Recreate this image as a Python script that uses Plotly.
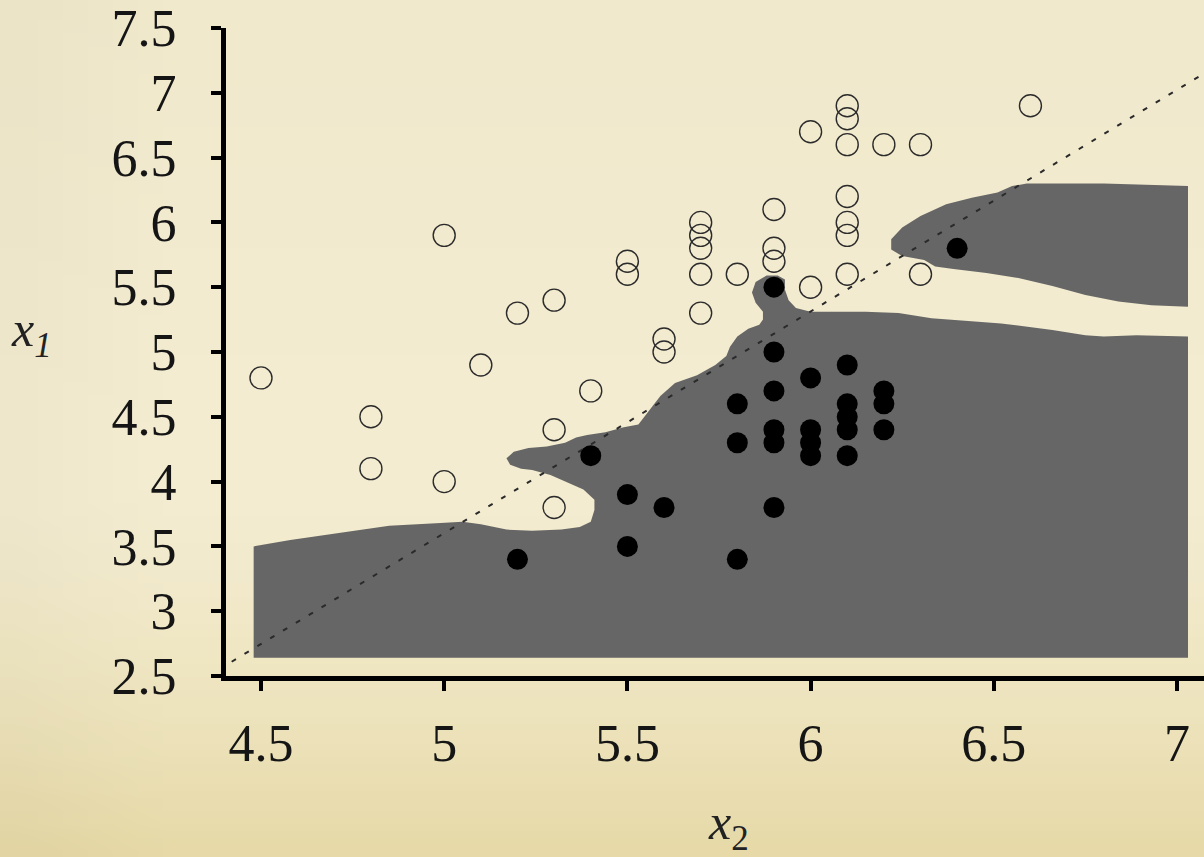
import base64, struct, zlib
import plotly.graph_objects as go

# ---------------- data ----------------
open_x2 = [4.5, 4.8, 4.8, 5.0, 5.0, 5.1, 5.2, 5.3, 5.3, 5.3, 5.4, 5.5, 5.5, 5.6, 5.6,
           5.7, 5.7, 5.7, 5.7, 5.7, 5.8, 5.9, 5.9, 5.9, 6.0, 6.0, 6.1, 6.1, 6.1, 6.1,
           6.1, 6.1, 6.1, 6.2, 6.3, 6.3, 6.6]
open_x1 = [4.8, 4.5, 4.1, 5.9, 4.0, 4.9, 5.3, 5.4, 4.4, 3.8, 4.7, 5.7, 5.6, 5.1, 5.0,
           6.0, 5.9, 5.8, 5.6, 5.3, 5.6, 6.1, 5.8, 5.7, 6.7, 5.5, 6.9, 6.8, 6.6, 6.2,
           6.0, 5.9, 5.6, 6.6, 6.6, 5.6, 6.9]

filled_x2 = [5.2, 5.4, 5.5, 5.5, 5.6, 5.8, 5.8, 5.8, 5.9, 5.9, 5.9, 5.9, 5.9, 5.9,
             6.0, 6.0, 6.0, 6.0, 6.1, 6.1, 6.1, 6.1, 6.1, 6.2, 6.2, 6.2, 6.4]
filled_x1 = [3.4, 4.2, 3.9, 3.5, 3.8, 4.6, 4.3, 3.4, 5.5, 5.0, 4.7, 4.4, 4.3, 3.8,
             4.8, 4.4, 4.3, 4.2, 4.9, 4.6, 4.5, 4.4, 4.2, 4.7, 4.6, 4.4, 5.8]

# decision region (lower, main part)
region_main_x = [4.48, 4.48, 4.58, 4.72, 4.85, 4.99, 5.05, 5.10, 5.17, 5.24, 5.32, 5.37, 5.40,
                 5.41, 5.41, 5.38, 5.33, 5.29, 5.24, 5.21, 5.18, 5.17, 5.19, 5.23, 5.28, 5.33,
                 5.36, 5.39, 5.44, 5.49, 5.53, 5.56, 5.59, 5.63, 5.69, 5.74, 5.77, 5.78, 5.80,
                 5.83, 5.86, 5.87, 5.87, 5.85, 5.84, 5.85, 5.88, 5.91, 5.93, 5.93, 5.94, 5.96,
                 6.00, 6.06, 6.15, 6.24, 6.33, 6.43, 6.52, 6.66, 6.75, 6.80, 6.89, 7.03, 7.03]
region_main_y = [2.64, 3.50, 3.55, 3.61, 3.66, 3.68, 3.69, 3.67, 3.63, 3.62, 3.63, 3.65, 3.69,
                 3.78, 3.86, 3.94, 4.00, 4.05, 4.09, 4.10, 4.13, 4.18, 4.23, 4.26, 4.27, 4.30,
                 4.34, 4.36, 4.38, 4.42, 4.44, 4.55, 4.66, 4.76, 4.82, 4.90, 4.97, 5.04, 5.12,
                 5.18, 5.21, 5.25, 5.31, 5.38, 5.46, 5.54, 5.59, 5.59, 5.56, 5.48, 5.40, 5.34,
                 5.31, 5.31, 5.31, 5.30, 5.26, 5.24, 5.22, 5.17, 5.13, 5.12, 5.13, 5.12, 2.64]

# decision region (upper-right lobe)
region_lobe_x = [7.03, 6.80, 6.59, 6.55, 6.51, 6.44, 6.37, 6.30, 6.25, 6.22, 6.22, 6.25, 6.31,
                 6.34, 6.39, 6.48, 6.57, 6.66, 6.75, 6.84, 6.93, 7.03]
region_lobe_y = [6.28, 6.30, 6.30, 6.28, 6.23, 6.19, 6.14, 6.05, 5.96, 5.87, 5.79, 5.74, 5.71,
                 5.66, 5.64, 5.61, 5.57, 5.51, 5.44, 5.39, 5.36, 5.35]

# dashed reference line end points
diag_x = [4.42, 7.08]
diag_y = [2.61, 7.16]

x_ticks = [4.5, 5.0, 5.5, 6.0, 6.5, 7.0]
x_ticktext = ["4.5", "5", "5.5", "6", "6.5", "7"]
y_ticks = [2.5, 3.0, 3.5, 4.0, 4.5, 5.0, 5.5, 6.0, 6.5, 7.0, 7.5]
y_ticktext = ["2.5", "3", "3.5", "4", "4.5", "5", "5.5", "6", "6.5", "7", "7.5"]


# ---------------- parchment background (generated PNG gradient) ----------------
def make_png(w, h, fn):
    rows = []
    for j in range(h):
        row = bytearray([0])
        for i in range(w):
            row.extend(fn(i / (w - 1), j / (h - 1)))
        rows.append(bytes(row))
    raw = b"".join(rows)

    def chunk(tag, data):
        c = struct.pack(">I", len(data)) + tag + data
        return c + struct.pack(">I", zlib.crc32(tag + data) & 0xFFFFFFFF)

    png = b"\x89PNG\r\n\x1a\n"
    png += chunk(b"IHDR", struct.pack(">IIBBBBB", w, h, 8, 2, 0, 0, 0))
    png += chunk(b"IDAT", zlib.compress(raw, 9))
    png += chunk(b"IEND", b"")
    return "data:image/png;base64," + base64.b64encode(png).decode()


def parchment(u, v):
    top = (241, 233, 204)
    mid = (244, 237, 210)
    bot = (231, 218, 168)
    if v < 0.55:
        t = v / 0.55
        c = [top[k] + (mid[k] - top[k]) * t for k in range(3)]
    else:
        t = (v - 0.55) / 0.45
        t = t ** 1.5
        c = [mid[k] + (bot[k] - mid[k]) * t for k in range(3)]
    edge = max(0.0, 0.12 - u) / 0.12 * 5
    return bytes(int(max(0, min(255, c[k] - edge))) for k in range(3))


bg_uri = make_png(48, 64, parchment)

# ---------------- figure ----------------
W, H = 1204, 857
L, R, T, B = 226, 0, 28, 181
pw, ph = W - L - R, H - T - B

fig = go.Figure()

fig.add_trace(go.Scatter(x=region_main_x, y=region_main_y, mode="lines", fill="toself",
                         fillcolor="#666666", line=dict(width=0, color="#666666"),
                         hoverinfo="skip", showlegend=False))
fig.add_trace(go.Scatter(x=region_lobe_x, y=region_lobe_y, mode="lines", fill="toself",
                         fillcolor="#666666", line=dict(width=0, color="#666666"),
                         hoverinfo="skip", showlegend=False))
fig.add_trace(go.Scatter(x=diag_x, y=diag_y, mode="lines",
                         line=dict(color="#2a2a2a", width=2, dash="5px,10px"),
                         hoverinfo="skip", showlegend=False))
fig.add_trace(go.Scatter(x=open_x2, y=open_x1, mode="markers",
                         marker=dict(symbol="circle-open", size=22,
                                     line=dict(color="#2b2b2b", width=1.4), color="#2b2b2b"),
                         showlegend=False))
fig.add_trace(go.Scatter(x=filled_x2, y=filled_x1, mode="markers",
                         marker=dict(symbol="circle", size=21, color="black",
                                     line=dict(width=0)),
                         showlegend=False))

serif = "Liberation Serif, Times New Roman, serif"
tick_font = dict(family=serif, size=52, color="#151515")

fig.update_layout(
    width=W, height=H, autosize=False,
    margin=dict(l=L, r=R, t=T, b=B, pad=0),
    paper_bgcolor="#f2ecd1",
    plot_bgcolor="rgba(0,0,0,0)",
    showlegend=False,
    images=[dict(source=bg_uri, xref="paper", yref="paper",
                 x=-L / pw, y=1 + T / ph, sizex=W / pw, sizey=H / ph,
                 sizing="stretch", xanchor="left", yanchor="top", layer="below")],
    xaxis=dict(range=[4.4045, 7.0737], tickvals=x_ticks, ticktext=x_ticktext,
               showgrid=False, zeroline=False, showline=True, linewidth=5, linecolor="black",
               ticks="outside", ticklen=10, tickwidth=4, tickcolor="black",
               tickfont=tick_font, ticklabelstandoff=8),
    yaxis=dict(range=[2.5, 7.5], tickvals=y_ticks, ticktext=y_ticktext,
               showgrid=False, zeroline=False, showline=True, linewidth=5, linecolor="black",
               ticks="outside", ticklen=10, tickwidth=4, tickcolor="black",
               tickfont=tick_font, ticklabelstandoff=24),
    annotations=[
        dict(text="<i>x</i><sub><i>1</i></sub>", xref="paper", yref="paper",
             x=(31 - L) / pw, y=(676 - 333) / ph, showarrow=False,
             font=dict(family=serif, size=50, color="#222"),
             xanchor="center", yanchor="middle"),
        dict(text="<i>x</i><sub>2</sub>", xref="paper", yref="paper",
             x=(728 - L) / pw, y=(676 - 826) / ph, showarrow=False,
             font=dict(family=serif, size=50, color="#222"),
             xanchor="center", yanchor="middle"),
    ],
)

fig.write_html(
    "out.html",
    config={"displayModeBar": False},
    post_script="document.body.style.margin='0px';document.body.style.overflow='hidden';"
                "document.documentElement.style.overflow='hidden';",
)
